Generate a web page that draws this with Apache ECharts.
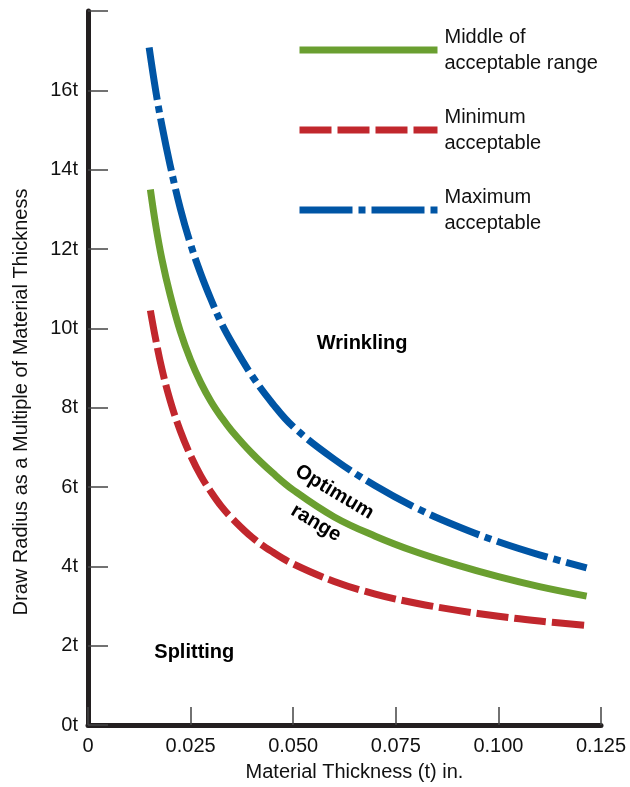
<!DOCTYPE html>
<html>
<head>
<meta charset="utf-8">
<script src="https://cdn.jsdelivr.net/npm/echarts@6/dist/echarts.min.js"></script>
<style>
html,body{margin:0;padding:0;background:#fff;}
#chart{width:630px;height:787px;}
</style>
</head>
<body>
<div id="chart"></div>
<script>
// Material thickness (t), inches
var thickness    = [0.0152, 0.0165, 0.018, 0.02, 0.0225, 0.025, 0.0275, 0.03, 0.0325, 0.035, 0.04, 0.045, 0.05, 0.06, 0.07, 0.08, 0.09, 0.10, 0.11, 0.1215];
var thicknessMax = [0.0149, 0.0165, 0.018, 0.02, 0.0225, 0.025, 0.0275, 0.03, 0.0325, 0.035, 0.04, 0.045, 0.05, 0.06, 0.07, 0.08, 0.09, 0.10, 0.11, 0.1215];
// Draw radius as multiple of t
var middleRange       = [13.5, 12.6, 11.75, 10.85, 9.92, 9.2, 8.625, 8.15, 7.76, 7.42, 6.845, 6.355, 5.925, 5.245, 4.76, 4.36, 4.03, 3.74, 3.49, 3.25];
var minimumAcceptable = [10.45, 9.72, 8.98, 8.19, 7.41, 6.79, 6.28, 5.87, 5.51, 5.22, 4.73, 4.36, 4.06, 3.62, 3.3, 3.07, 2.89, 2.74, 2.62, 2.51];
var maximumAcceptable = [17.08, 15.99, 15.12, 14.12, 13.02, 12.12, 11.37, 10.72, 10.13, 9.65, 8.8, 8.1, 7.52, 6.7, 6.03, 5.47, 5.01, 4.62, 4.29, 3.96];

var seriesNames = ['Middle of acceptable range', 'Minimum acceptable', 'Maximum acceptable'];
var legendLabels = ['Middle of\nacceptable range', 'Minimum\nacceptable', 'Maximum\nacceptable'];

var xTicks = [0, 0.025, 0.05, 0.075, 0.1, 0.125];
var xTickLabels = ['0', '0.025', '0.050', '0.075', '0.100', '0.125'];
var yTickLabels = ['0t', '2t', '4t', '6t', '8t', '10t', '12t', '14t', '16t', ''];

// Region annotations
var noteText = ['Wrinkling', 'Splitting', 'Optimum\nrange'];
var noteX = [0.0668, 0.0259, 0.0578];
var noteY = [9.61, 1.84, 5.48];
var noteRotate = [0, 0, -31];

var FONT = '"Liberation Sans", Arial, sans-serif';
var INK = '#231f20';

function pairs(xs, ys) { return xs.map(function (x, i) { return [x, ys[i]]; }); }

var chart = echarts.init(document.getElementById('chart'), null, {renderer: 'canvas'});

var lineCommon = function (name, data, color, type) {
  return {
    name: name, type: 'line', data: data, smooth: 0.4, symbol: 'none', showSymbol: false,
    silent: true, animation: false,
    lineStyle: {color: color, width: 7, type: type, cap: 'butt', join: 'round'},
    itemStyle: {color: color},
    emphasis: {disabled: true}
  };
};

var option = {
  animation: false,
  backgroundColor: '#ffffff',
  grid: {left: 88, right: 29, top: 11, bottom: 60, containLabel: false},
  legend: {
    orient: 'vertical', left: 296, top: 24, padding: 0,
    itemWidth: 138, itemHeight: 7, itemGap: 28,
    selectedMode: false,
    data: seriesNames,
    formatter: function (n) { return legendLabels[seriesNames.indexOf(n)]; },
    itemStyle: {color: 'rgba(0,0,0,0)', borderWidth: 0, opacity: 0},
    lineStyle: {width: 7},
    textStyle: {fontFamily: FONT, fontSize: 20, lineHeight: 26, color: '#111', padding: [0, 0, 0, 2]}
  },
  xAxis: {
    type: 'value', min: 0, max: 0.125, interval: 0.025,
    name: 'Material Thickness (t) in.', nameLocation: 'middle', nameGap: 37,
    nameTextStyle: {fontFamily: FONT, fontSize: 20, color: '#111', padding: [0, 0, 0, 20]},
    axisLine: {lineStyle: {color: INK, width: 5}},
    axisTick: {inside: true, length: 18, lineStyle: {color: '#444', width: 1.5}},
    axisLabel: {
      fontFamily: FONT, fontSize: 20, color: '#111', margin: 11,
      formatter: function (v) { var i = xTicks.findIndex(function (t) { return Math.abs(t - v) < 1e-9; }); return i >= 0 ? xTickLabels[i] : ''; }
    },
    splitLine: {show: false}
  },
  yAxis: {
    type: 'value', min: 0, max: 18, interval: 2,
    name: 'Draw Radius as a Multiple of Material Thickness', nameLocation: 'middle', nameGap: 57, nameRotate: 90,
    nameTextStyle: {fontFamily: FONT, fontSize: 20, color: '#111', padding: [0, 68, 0, 0]},
    axisLine: {lineStyle: {color: INK, width: 5}},
    axisTick: {inside: true, length: 20, lineStyle: {color: '#444', width: 1.5}},
    axisLabel: {
      fontFamily: FONT, fontSize: 20, color: '#111', margin: 10,
      formatter: function (v) { return yTickLabels[Math.round(v / 2)]; }
    },
    splitLine: {show: false}
  },
  series: [
    lineCommon(seriesNames[0], pairs(thickness, middleRange), '#6a9f30', 'solid'),
    lineCommon(seriesNames[1], pairs(thickness, minimumAcceptable), '#c1272d', [32, 6]),
    lineCommon(seriesNames[2], pairs(thicknessMax, maximumAcceptable), '#0055a5', [53, 6, 7, 6]),
    {
      name: 'notes', type: 'scatter', symbolSize: 0, silent: true, animation: false,
      itemStyle: {color: '#000', opacity: 0},
      data: noteText.map(function (t, i) {
        return {
          value: [noteX[i], noteY[i]], name: t,
          label: {rotate: noteRotate[i]}
        };
      }),
      label: {
        show: true, position: 'inside', formatter: '{b}', opacity: 1,
        fontFamily: FONT, fontSize: 20, fontWeight: 'bold', color: '#000', lineHeight: 36, align: 'center',
        textBorderWidth: 0, textBorderColor: 'transparent'
      },
      emphasis: {disabled: true}
    }
  ]
};
chart.setOption(option);
</script>
</body>
</html>
